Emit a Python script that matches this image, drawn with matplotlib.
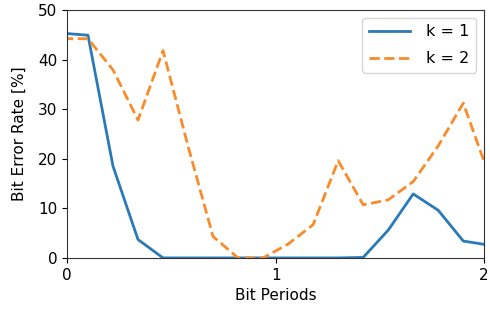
import matplotlib
matplotlib.use('Agg')
import matplotlib.pyplot as plt

# sample positions in bit periods (first and last fall just outside the axis)
bit_periods = [-0.02, 0.10, 0.22, 0.34, 0.46, 0.58, 0.70, 0.82, 0.94,
               1.06, 1.18, 1.30, 1.42, 1.54, 1.66, 1.78, 1.90, 2.02]

ber_k1 = [45.3, 44.9, 18.5, 3.7, 0.0, 0.0, 0.0, 0.0, 0.0,
          0.0, 0.0, 0.0, 0.1, 5.6, 12.9, 9.6, 3.4, 2.6]
ber_k2 = [44.2, 44.2, 37.9, 27.8, 41.8, 22.5, 4.3, 0.0, 0.0,
          2.8, 6.7, 19.6, 10.7, 11.7, 15.4, 22.6, 31.2, 17.1]

plt.rcParams['font.family'] = 'DejaVu Sans'
plt.rcParams['font.size'] = 11

fig = plt.figure(figsize=(4.9, 3.1), dpi=100)
ax = fig.add_axes([0.137, 0.168, 0.851, 0.80])

ax.plot(bit_periods, ber_k1, color='#2a7ab8', lw=2, label='k = 1')
ax.plot(bit_periods, ber_k2, color='#f98b2a', lw=2, ls='--', label='k = 2')

ax.set_xlim(0, 2)
ax.set_ylim(0, 50)
ax.set_xticks([0, 1, 2])
ax.set_yticks([0, 10, 20, 30, 40, 50])
ax.set_xlabel('Bit Periods')
ax.set_ylabel('Bit Error Rate [%]', labelpad=8)
for s in ax.spines.values():
    s.set_color('#333333')
ax.legend(loc='upper right', fontsize=11.5, labelspacing=0.75,
          handlelength=2.6, handletextpad=1.0)

fig.savefig('out.png', dpi=100)
